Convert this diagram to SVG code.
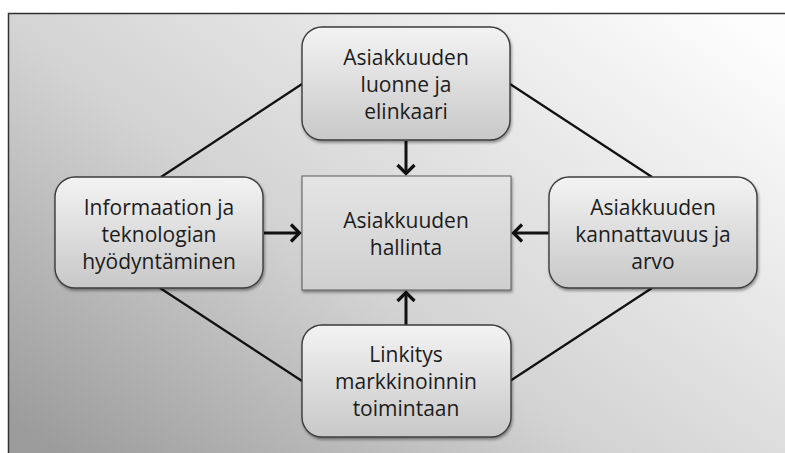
<svg xmlns="http://www.w3.org/2000/svg" width="785" height="453" viewBox="0 0 785 453">
  <defs>
    <linearGradient id="bg" x1="0" y1="0.9" x2="1" y2="0.1">
      <stop offset="0" stop-color="#9c9c9c"/>
      <stop offset="0.42" stop-color="#d3d3d3"/>
      <stop offset="1" stop-color="#fdfdfd"/>
    </linearGradient>
    <linearGradient id="nodeFill" x1="0" y1="0" x2="0" y2="1">
      <stop offset="0" stop-color="#f3f3f3"/>
      <stop offset="1" stop-color="#c8c8c8"/>
    </linearGradient>
    <linearGradient id="coreFill" x1="0" y1="0" x2="0" y2="1">
      <stop offset="0" stop-color="#e4e4e4"/>
      <stop offset="1" stop-color="#cfcfcf"/>
    </linearGradient>
    <filter id="shadow" x="-10%" y="-10%" width="125%" height="130%">
      <feGaussianBlur in="SourceAlpha" stdDeviation="1.5"/>
      <feOffset dx="1" dy="2" result="b"/>
      <feComponentTransfer><feFuncA type="linear" slope="0.4"/></feComponentTransfer>
      <feMerge><feMergeNode/><feMergeNode in="SourceGraphic"/></feMerge>
    </filter>
    <marker id="head" viewBox="0 0 14 22" refX="11.5" refY="11" markerWidth="14" markerHeight="22" markerUnits="userSpaceOnUse" orient="auto">
      <path d="M2.5,2.5 L11,11 L2.5,19.5" fill="none" stroke="#111" stroke-width="3.2" stroke-linejoin="miter"/>
    </marker>
  </defs>
  <style>
    .node { fill: url(#nodeFill); stroke: #3c3c3c; stroke-width: 1.4; filter: url(#shadow); }
    .core { fill: url(#coreFill); stroke: #5a5a5a; stroke-width: 1; filter: url(#shadow); }
    .label { font-family: "Open Sans", "Liberation Sans", sans-serif; font-size: 21px; fill: #1c1c1c; text-anchor: middle; }
    .link { stroke: #111; stroke-width: 2.2; fill: none; }
    .flow { stroke: #111; stroke-width: 3; fill: none; marker-end: url(#head); }
  </style>

  <!-- backdrop panel -->
  <rect x="8" y="13" width="790" height="450" fill="url(#bg)"/>
  <path d="M8.5,453 V13.5 H785" fill="none" stroke="#333" stroke-width="1.5"/>

  <g id="connectors">
    <line class="link" x1="302" y1="84" x2="161" y2="177"/>
    <line class="link" x1="510" y1="84" x2="652" y2="177"/>
    <line class="link" x1="160" y1="288" x2="302" y2="381"/>
    <line class="link" x1="652" y1="288" x2="510" y2="381"/>
    <line class="flow" x1="406" y1="141" x2="406" y2="174"/>
    <line class="flow" x1="264" y1="233" x2="300" y2="233"/>
    <line class="flow" x1="549" y1="233" x2="513" y2="233"/>
    <line class="flow" x1="406" y1="325" x2="406" y2="292"/>
  </g>

  <g id="node-top">
    <rect class="node" x="302" y="27" width="208" height="113" rx="20"/>
    <text class="label" x="406" y="65">Asiakkuuden</text>
    <text class="label" x="406" y="92">luonne ja</text>
    <text class="label" x="406" y="119">elinkaari</text>
  </g>

  <g id="node-center">
    <rect class="core" x="302" y="176" width="209" height="114"/>
    <text class="label" x="406" y="228">Asiakkuuden</text>
    <text class="label" x="406" y="255">hallinta</text>
  </g>

  <g id="node-left">
    <rect class="node" x="55" y="177" width="208" height="111" rx="20"/>
    <text class="label" x="159" y="215">Informaation ja</text>
    <text class="label" x="159" y="242">teknologian</text>
    <text class="label" x="159" y="269">hyödyntäminen</text>
  </g>

  <g id="node-right">
    <rect class="node" x="549" y="177" width="208" height="111" rx="20"/>
    <text class="label" x="653" y="215">Asiakkuuden</text>
    <text class="label" x="653" y="242">kannattavuus ja</text>
    <text class="label" x="653" y="269">arvo</text>
  </g>

  <g id="node-bottom">
    <rect class="node" x="302" y="325" width="209" height="112" rx="20"/>
    <text class="label" x="406" y="362">Linkitys</text>
    <text class="label" x="406" y="389">markkinoinnin</text>
    <text class="label" x="406" y="416">toimintaan</text>
  </g>
</svg>
